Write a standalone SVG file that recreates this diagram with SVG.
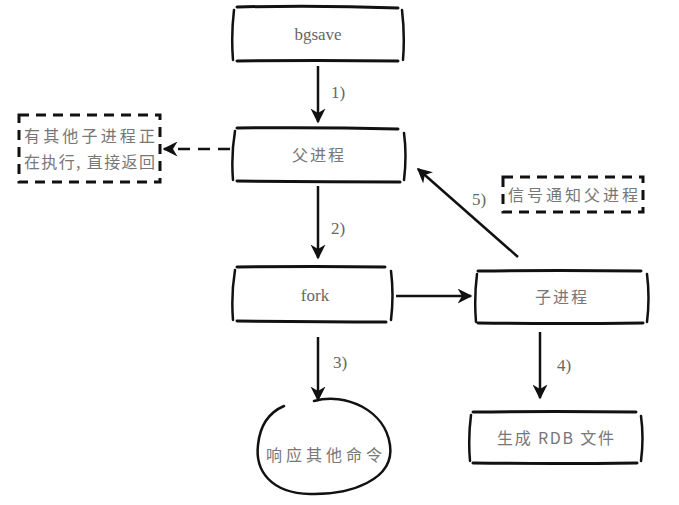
<svg xmlns="http://www.w3.org/2000/svg" width="679" height="505" viewBox="0 0 679 505">
<defs>
<style>
.ln{fill:none;stroke:#111;stroke-width:3;stroke-linecap:round}
.sd{fill:none;stroke:#111;stroke-width:2.5;stroke-linecap:round}
.ds{fill:none;stroke:#111;stroke-width:3;stroke-dasharray:10 7}
.ar{fill:none;stroke:#111;stroke-width:2.5}
.t{font-family:"Liberation Serif",serif;font-size:17px;fill:#666;text-anchor:middle}
.c{font-family:"Noto Sans CJK SC",sans-serif;font-size:16px;letter-spacing:2px;fill:#777;text-anchor:middle}
.n{font-family:"Liberation Serif",serif;font-size:17px;fill:#666}
</style>
<marker id="ah" viewBox="0 0 10 10" refX="9" refY="5" markerWidth="6" markerHeight="6" orient="auto">
<path d="M0,0 L10,5 L0,10 L3,5 Z" fill="#111"/>
</marker>
</defs>
<rect width="679" height="505" fill="#fff"/>
<g id="connectors">
<line class="ar" x1="318" y1="66" x2="318" y2="122" marker-end="url(#ah)"/>
<text class="n" x="331" y="98">1)</text>
<line class="ar" x1="230" y1="149" x2="164" y2="149" stroke-dasharray="12 8" marker-end="url(#ah)"/>
<line class="ar" x1="318" y1="186" x2="318" y2="258" marker-end="url(#ah)"/>
<text class="n" x="331" y="234">2)</text>
<line class="ar" x1="396" y1="296" x2="471" y2="296" marker-end="url(#ah)"/>
<line class="ar" x1="518" y1="257" x2="418" y2="169" marker-end="url(#ah)"/>
<text class="n" x="472" y="205">5)</text>
<line class="ar" x1="318" y1="337" x2="318" y2="400" marker-end="url(#ah)"/>
<text class="n" x="333" y="368">3)</text>
<line class="ar" x1="540" y1="332" x2="540" y2="398" marker-end="url(#ah)"/>
<text class="n" x="557" y="371">4)</text>
</g>
<g id="bgsave">
<path class="ln" d="M237,7 Q318,5 398,8 M237,61 Q318,60 398,61"/>
<path class="sd" d="M234,10 Q231,35 233,60 M402,10 Q405,35 403,60"/>
<text class="t" x="318" y="40">bgsave</text>
</g>
<g id="parent">
<path class="ln" d="M237,128 Q318,127 398,129 M237,181 Q318,182 400,182"/>
<path class="sd" d="M235,131 Q231,155 233,180 M404,133 Q407,155 404,180"/>
<text class="c" x="319" y="161">父进程</text>
</g>
<g id="busy">
<path class="ds" d="M19,115 L160,115 L160,182 L19,182 Z"/>
<text class="c" x="24" y="142" style="text-anchor:start;letter-spacing:0" textLength="131" lengthAdjust="spacing">有其他子进程正</text>
<text class="c" x="24" y="168" style="text-anchor:start;letter-spacing:0" textLength="131" lengthAdjust="spacing">在执行, 直接返回</text>
</g>
<g id="fork">
<path class="ln" d="M237,267 Q318,266 385,267 M237,321 Q318,322 386,322"/>
<path class="sd" d="M235,270 Q231,295 233,320 M391,271 Q394,295 391,320"/>
<text class="t" x="315" y="301">fork</text>
</g>
<g id="child">
<path class="ln" d="M478,271 Q560,270 641,271 M478,323 Q560,324 643,323"/>
<path class="sd" d="M477,274 Q474,298 476,322 M647,274 Q650,298 647,322"/>
<text class="c" x="562" y="303">子进程</text>
</g>
<g id="signal">
<path class="ds" d="M503,177 L643,177 L643,212 L503,212 Z"/>
<text class="c" x="508" y="201" style="text-anchor:start;letter-spacing:0" textLength="130" lengthAdjust="spacing">信号通知父进程</text>
</g>
<g id="respond">
<path class="sd" d="M314,401 C345,392 385,410 390,445 C395,480 350,495 310,494 C270,493 255,470 258,445 C260,425 270,412 284,406"/>
<text class="c" x="266" y="461" style="text-anchor:start;letter-spacing:0" textLength="116" lengthAdjust="spacing">响应其他命令</text>
</g>
<g id="rdb">
<path class="ln" d="M473,412 Q555,411 636,412 M473,463 Q555,464 637,463"/>
<path class="sd" d="M471,415 Q468,438 470,461 M641,416 Q644,438 641,461"/>
<text class="c" x="497" y="444" style="text-anchor:start;letter-spacing:0" textLength="117" lengthAdjust="spacing">生成 RDB 文件</text>
</g>
</svg>
